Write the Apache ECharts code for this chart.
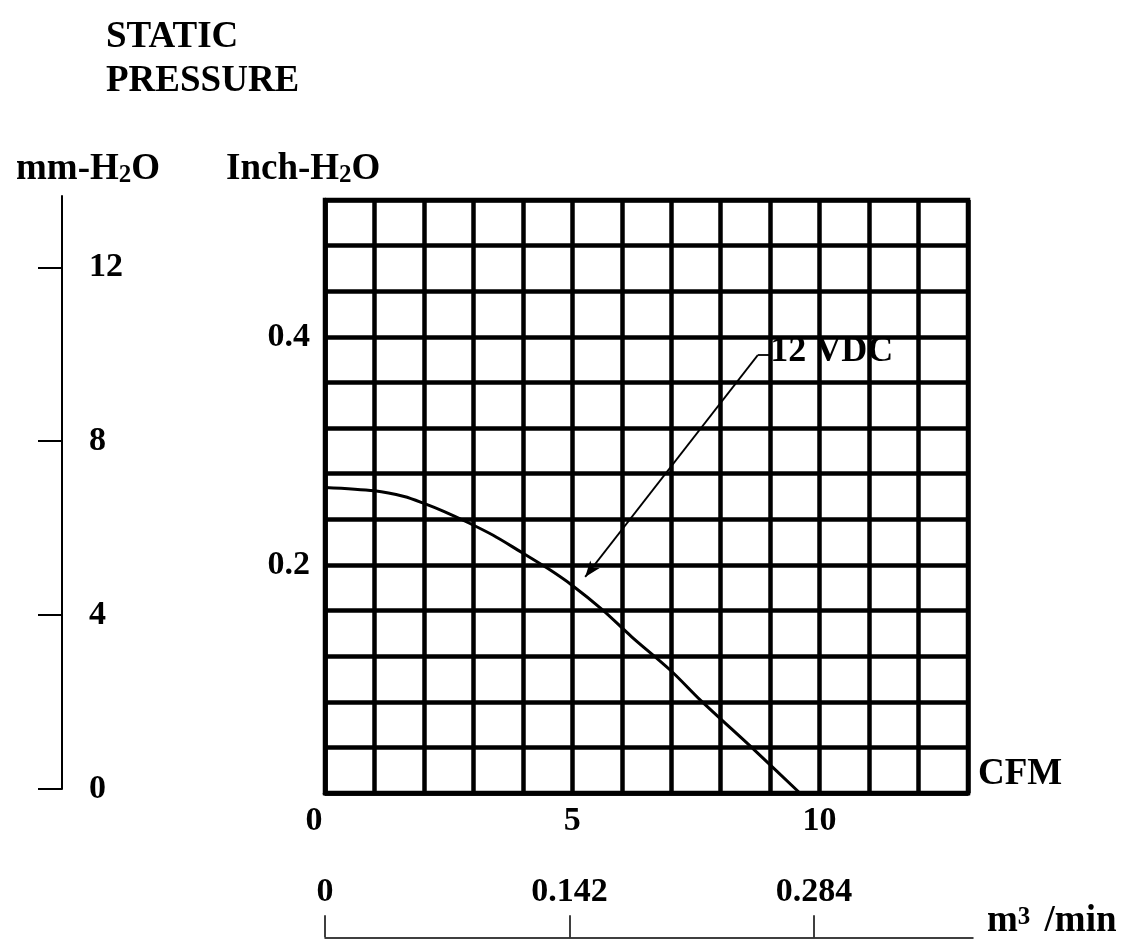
<!DOCTYPE html>
<html>
<head>
<meta charset="utf-8">
<script src="https://cdn.jsdelivr.net/npm/echarts@6/dist/echarts.min.js"></script>
<style>
html,body{margin:0;padding:0;background:#fff;}
#chart{width:1121px;height:940px;}
</style>
</head>
<body>
<div id="chart"></div>
<script>
// ---- data ----
const cfmValues  = [0, 1.0, 1.6, 2.0, 2.4, 2.9, 3.4, 3.9, 4.5, 5.0, 5.6, 6.2, 7.0, 7.6, 8.7, 9.6];
const inchValues = [0.268, 0.265, 0.260, 0.254, 0.247, 0.237, 0.226, 0.213, 0.197, 0.182, 0.161, 0.137, 0.107, 0.081, 0.037, 0];
const seriesName = '12 VDC';
const cfmTickLabels  = [0, 5, 10];
const inchTickLabels = [0.2, 0.4];
const mmTickLabels   = [0, 4, 8, 12];
const m3TickLabels   = [0, 0.142, 0.284];

const FONT = 'Liberation Serif';
const txt = (size) => ({color:'#000', fontFamily:FONT, fontWeight:'bold', fontSize:size});

const curve = cfmValues.map((x, i) => [x, inchValues[i]]);

const chart = echarts.init(document.getElementById('chart'));
chart.setOption({
  backgroundColor:'#fff',
  animation:false,
  title:[
    {text:'STATIC\nPRESSURE', left:101, top:10, textStyle:Object.assign(txt(37), {lineHeight:44})},
    {text:'{a|mm-H}{s|2}{a|O}', left:11, top:146,
     textStyle:{rich:{a:txt(37), s:Object.assign(txt(25), {verticalAlign:'bottom'})}}},
    {text:'{a|Inch-H}{s|2}{a|O}', left:221, top:146,
     textStyle:{rich:{a:txt(37), s:Object.assign(txt(25), {verticalAlign:'bottom'})}}}
  ],
  grid:[
    {left:325, top:200, width:643, height:593, show:true, borderColor:'#000', borderWidth:4.5, backgroundColor:'transparent'},
    {left:62, top:196, width:1, height:593},
    {left:325, top:937, width:648, height:1}
  ],
  xAxis:[
    {type:'value', gridIndex:0, min:0, max:13, interval:1,
     name:'CFM', nameLocation:'end', nameGap:10,
     nameTextStyle:Object.assign(txt(37), {verticalAlign:'bottom', lineHeight:38, padding:[0,0,0,0]}),
     axisLine:{show:true, lineStyle:{color:'#000', width:4.5}},
     axisTick:{show:false},
     splitLine:{show:true, lineStyle:{color:'#000', width:4.5}},
     axisLabel:Object.assign(txt(34), {margin:11, customValues:cfmTickLabels,
       formatter:v => v === 0 ? '{z|0}' : String(v),
       rich:{z:Object.assign(txt(34), {padding:[0,22,0,0]})}})},
    {type:'value', gridIndex:1, show:false, min:0, max:1},
    {type:'value', gridIndex:2, min:0, max:0.3763, position:'bottom',
     name:'{a|m}{s|3}{a| /min}', nameLocation:'end', nameGap:14,
     nameTextStyle:{verticalAlign:'bottom', rich:{
       a:Object.assign(txt(37), {lineHeight:32}),
       s:Object.assign(txt(25), {verticalAlign:'top', lineHeight:32, padding:[0,5,10,0]})}},
     axisLine:{show:true, lineStyle:{color:'#000', width:1.5}},
     axisTick:{show:true, inside:true, length:22, customValues:m3TickLabels, lineStyle:{color:'#000', width:1.5}},
     splitLine:{show:false},
     axisLabel:Object.assign(txt(34), {inside:true, margin:28, customValues:m3TickLabels,
       formatter:v => v === 0 ? '0' : v.toFixed(3)})}
  ],
  yAxis:[
    {type:'value', gridIndex:0, min:0, max:0.52, interval:0.04,
     axisLine:{show:true, lineStyle:{color:'#000', width:4.5}},
     axisTick:{show:false},
     splitLine:{show:true, lineStyle:{color:'#000', width:4.5}},
     axisLabel:Object.assign(txt(34), {margin:15, customValues:inchTickLabels,
       formatter:v => v.toFixed(1)})},
    {type:'value', gridIndex:1, min:0, max:13.64, position:'left',
     axisLine:{show:true, lineStyle:{color:'#000', width:2}},
     axisTick:{show:true, length:24, customValues:mmTickLabels, lineStyle:{color:'#000', width:2}},
     splitLine:{show:false},
     axisLabel:Object.assign(txt(34), {inside:true, margin:27, customValues:mmTickLabels})},
    {type:'value', gridIndex:2, show:false, min:0, max:1}
  ],
  series:[
    {type:'line', name:seriesName, xAxisIndex:0, yAxisIndex:0, data:curve,
     smooth:0.3, showSymbol:false, silent:true,
     lineStyle:{color:'#000', width:3},
     markLine:{silent:true, animation:false,
       label:{show:false},
       lineStyle:{color:'#000', width:1.8, type:'solid'},
       data:[
         [{coord:[8.75, 0.384], symbol:'none'}, {coord:[5.26, 0.1895], symbol:'arrow', symbolSize:[9, 16]}],
         [{coord:[8.75, 0.384], symbol:'none'}, {coord:[9.0, 0.384], symbol:'none'}]
       ]},
     markPoint:{silent:true, animation:false,
       data:[{coord:[9.0, 0.387], symbol:'circle', symbolSize:0,
         label:Object.assign(txt(36), {show:true, position:'right', distance:0, formatter:seriesName})}]}
    }
  ]
});
</script>
</body>
</html>
